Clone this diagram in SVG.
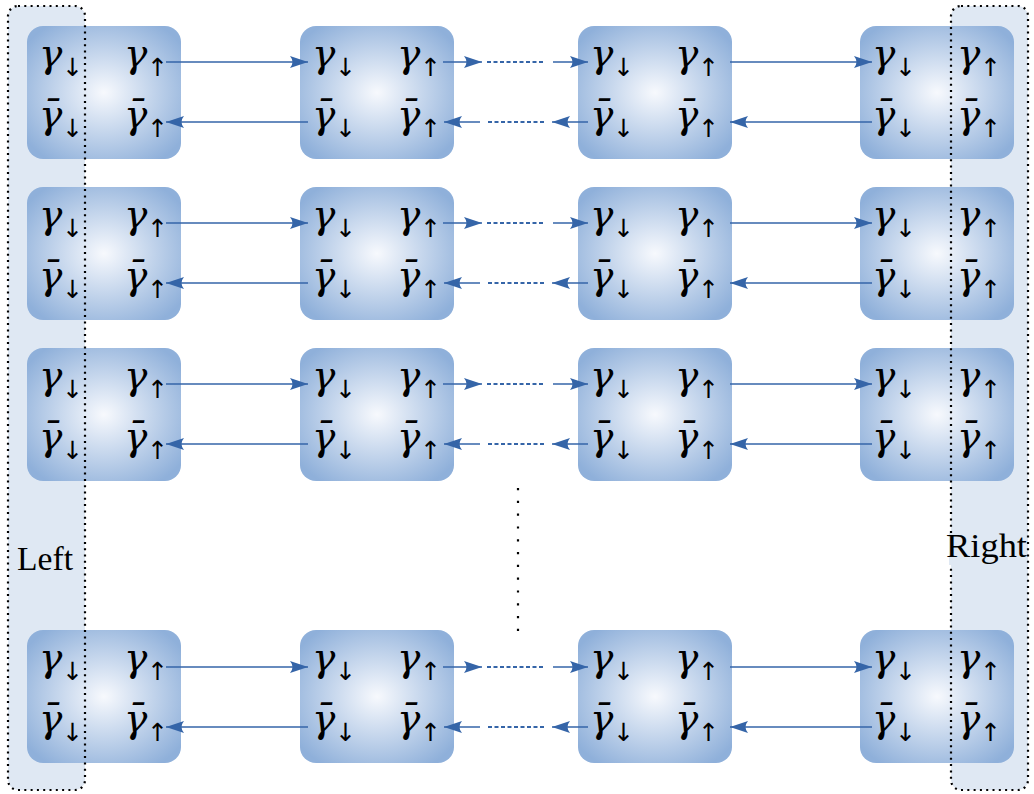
<svg xmlns="http://www.w3.org/2000/svg" width="1034" height="794" viewBox="0 0 1034 794">
<defs>
<radialGradient id="ng" cx="0.5" cy="0.5" r="0.62">
<stop offset="0" stop-color="#f7f9fd"/>
<stop offset="1" stop-color="#8fb0da"/>
</radialGradient>
<marker id="ah" viewBox="0 0 18 12" refX="18" refY="6" markerWidth="18" markerHeight="12" markerUnits="userSpaceOnUse" orient="auto">
<path d="M0,0 L18,6 L0,12 Q5,6 0,0 Z" fill="#3565a8"/>
</marker>
<g id="node">
<rect x="0" y="0" width="154" height="133" rx="16" fill="url(#ng)"/>
</g>
</defs>
<style>
.panel{fill:#dfe8f3;}
.pborder{fill:none;stroke:#000;stroke-width:2.2;stroke-dasharray:2 4.3;}
.g{font-family:"DejaVu Serif","Liberation Serif",serif;font-style:italic;font-size:39px;fill:#000;}
.s{font-style:normal;font-weight:400;font-size:25px;font-family:"DejaVu Sans",sans-serif;fill:#000;}
.lbl{font-family:"Liberation Serif","DejaVu Serif",serif;font-size:34px;fill:#000;}
.c{stroke:#3565a8;stroke-width:1.5;fill:none;}
.d{stroke:#3565a8;stroke-width:2;fill:none;stroke-dasharray:4 2.5;}
.vd{stroke:#000;stroke-width:2.2;stroke-dasharray:2.2 10.6;}
</style>
<g id="panels">
<rect class="panel" x="8" y="6" width="77" height="784" rx="10"/>
<rect class="panel" x="951" y="6" width="77" height="784" rx="10"/>
</g>
<g id="nodes">
<g id="n-r1c1" transform="translate(27,26)"><use href="#node"/><text class="g" x="12" y="41">γ<tspan class="s" dy="9">↓</tspan></text><text class="g" x="97" y="41">γ<tspan class="s" dy="9">↑</tspan></text><text class="g" x="12" y="102">γ̄<tspan class="s" dy="9">↓</tspan></text><text class="g" x="97" y="102">γ̄<tspan class="s" dy="9">↑</tspan></text></g>
<g id="n-r1c2" transform="translate(300,26)"><use href="#node"/><text class="g" x="12" y="41">γ<tspan class="s" dy="9">↓</tspan></text><text class="g" x="97" y="41">γ<tspan class="s" dy="9">↑</tspan></text><text class="g" x="12" y="102">γ̄<tspan class="s" dy="9">↓</tspan></text><text class="g" x="97" y="102">γ̄<tspan class="s" dy="9">↑</tspan></text></g>
<g id="n-r1c3" transform="translate(578,26)"><use href="#node"/><text class="g" x="12" y="41">γ<tspan class="s" dy="9">↓</tspan></text><text class="g" x="97" y="41">γ<tspan class="s" dy="9">↑</tspan></text><text class="g" x="12" y="102">γ̄<tspan class="s" dy="9">↓</tspan></text><text class="g" x="97" y="102">γ̄<tspan class="s" dy="9">↑</tspan></text></g>
<g id="n-r1c4" transform="translate(860,26)"><use href="#node"/><text class="g" x="12" y="41">γ<tspan class="s" dy="9">↓</tspan></text><text class="g" x="97" y="41">γ<tspan class="s" dy="9">↑</tspan></text><text class="g" x="12" y="102">γ̄<tspan class="s" dy="9">↓</tspan></text><text class="g" x="97" y="102">γ̄<tspan class="s" dy="9">↑</tspan></text></g>

<g id="n-r2c1" transform="translate(27,187)"><use href="#node"/><text class="g" x="12" y="41">γ<tspan class="s" dy="9">↓</tspan></text><text class="g" x="97" y="41">γ<tspan class="s" dy="9">↑</tspan></text><text class="g" x="12" y="102">γ̄<tspan class="s" dy="9">↓</tspan></text><text class="g" x="97" y="102">γ̄<tspan class="s" dy="9">↑</tspan></text></g>
<g id="n-r2c2" transform="translate(300,187)"><use href="#node"/><text class="g" x="12" y="41">γ<tspan class="s" dy="9">↓</tspan></text><text class="g" x="97" y="41">γ<tspan class="s" dy="9">↑</tspan></text><text class="g" x="12" y="102">γ̄<tspan class="s" dy="9">↓</tspan></text><text class="g" x="97" y="102">γ̄<tspan class="s" dy="9">↑</tspan></text></g>
<g id="n-r2c3" transform="translate(578,187)"><use href="#node"/><text class="g" x="12" y="41">γ<tspan class="s" dy="9">↓</tspan></text><text class="g" x="97" y="41">γ<tspan class="s" dy="9">↑</tspan></text><text class="g" x="12" y="102">γ̄<tspan class="s" dy="9">↓</tspan></text><text class="g" x="97" y="102">γ̄<tspan class="s" dy="9">↑</tspan></text></g>
<g id="n-r2c4" transform="translate(860,187)"><use href="#node"/><text class="g" x="12" y="41">γ<tspan class="s" dy="9">↓</tspan></text><text class="g" x="97" y="41">γ<tspan class="s" dy="9">↑</tspan></text><text class="g" x="12" y="102">γ̄<tspan class="s" dy="9">↓</tspan></text><text class="g" x="97" y="102">γ̄<tspan class="s" dy="9">↑</tspan></text></g>

<g id="n-r3c1" transform="translate(27,348)"><use href="#node"/><text class="g" x="12" y="41">γ<tspan class="s" dy="9">↓</tspan></text><text class="g" x="97" y="41">γ<tspan class="s" dy="9">↑</tspan></text><text class="g" x="12" y="102">γ̄<tspan class="s" dy="9">↓</tspan></text><text class="g" x="97" y="102">γ̄<tspan class="s" dy="9">↑</tspan></text></g>
<g id="n-r3c2" transform="translate(300,348)"><use href="#node"/><text class="g" x="12" y="41">γ<tspan class="s" dy="9">↓</tspan></text><text class="g" x="97" y="41">γ<tspan class="s" dy="9">↑</tspan></text><text class="g" x="12" y="102">γ̄<tspan class="s" dy="9">↓</tspan></text><text class="g" x="97" y="102">γ̄<tspan class="s" dy="9">↑</tspan></text></g>
<g id="n-r3c3" transform="translate(578,348)"><use href="#node"/><text class="g" x="12" y="41">γ<tspan class="s" dy="9">↓</tspan></text><text class="g" x="97" y="41">γ<tspan class="s" dy="9">↑</tspan></text><text class="g" x="12" y="102">γ̄<tspan class="s" dy="9">↓</tspan></text><text class="g" x="97" y="102">γ̄<tspan class="s" dy="9">↑</tspan></text></g>
<g id="n-r3c4" transform="translate(860,348)"><use href="#node"/><text class="g" x="12" y="41">γ<tspan class="s" dy="9">↓</tspan></text><text class="g" x="97" y="41">γ<tspan class="s" dy="9">↑</tspan></text><text class="g" x="12" y="102">γ̄<tspan class="s" dy="9">↓</tspan></text><text class="g" x="97" y="102">γ̄<tspan class="s" dy="9">↑</tspan></text></g>

<g id="n-r4c1" transform="translate(27,630)"><use href="#node"/><text class="g" x="12" y="41">γ<tspan class="s" dy="9">↓</tspan></text><text class="g" x="97" y="41">γ<tspan class="s" dy="9">↑</tspan></text><text class="g" x="12" y="102">γ̄<tspan class="s" dy="9">↓</tspan></text><text class="g" x="97" y="102">γ̄<tspan class="s" dy="9">↑</tspan></text></g>
<g id="n-r4c2" transform="translate(300,630)"><use href="#node"/><text class="g" x="12" y="41">γ<tspan class="s" dy="9">↓</tspan></text><text class="g" x="97" y="41">γ<tspan class="s" dy="9">↑</tspan></text><text class="g" x="12" y="102">γ̄<tspan class="s" dy="9">↓</tspan></text><text class="g" x="97" y="102">γ̄<tspan class="s" dy="9">↑</tspan></text></g>
<g id="n-r4c3" transform="translate(578,630)"><use href="#node"/><text class="g" x="12" y="41">γ<tspan class="s" dy="9">↓</tspan></text><text class="g" x="97" y="41">γ<tspan class="s" dy="9">↑</tspan></text><text class="g" x="12" y="102">γ̄<tspan class="s" dy="9">↓</tspan></text><text class="g" x="97" y="102">γ̄<tspan class="s" dy="9">↑</tspan></text></g>
<g id="n-r4c4" transform="translate(860,630)"><use href="#node"/><text class="g" x="12" y="41">γ<tspan class="s" dy="9">↓</tspan></text><text class="g" x="97" y="41">γ<tspan class="s" dy="9">↑</tspan></text><text class="g" x="12" y="102">γ̄<tspan class="s" dy="9">↓</tspan></text><text class="g" x="97" y="102">γ̄<tspan class="s" dy="9">↑</tspan></text></g>
</g>
<g id="panel-borders">
<rect class="pborder" x="8" y="6" width="77" height="784" rx="10"/>
<rect class="pborder" x="951" y="6" width="77" height="784" rx="10"/>
</g>
<g id="left-label">
<text class="lbl" x="17" y="570" textLength="56" lengthAdjust="spacingAndGlyphs">Left</text>
</g>
<g id="right-label">
<rect class="panel" x="949" y="533" width="76" height="32"/>
<text class="lbl" x="946" y="557" textLength="81" lengthAdjust="spacingAndGlyphs">Right</text>
</g>
<g id="connectors">
<g id="row1" transform="translate(0,0)">
<line class="c" x1="166" y1="62" x2="308" y2="62" marker-end="url(#ah)"/>
<line class="c" x1="308" y1="122" x2="166" y2="122" marker-end="url(#ah)"/>
<line class="c" x1="443" y1="62" x2="482" y2="62" marker-end="url(#ah)"/>
<line class="d" x1="487" y1="62" x2="545" y2="62"/>
<line class="c" x1="553" y1="62" x2="588" y2="62" marker-end="url(#ah)"/>
<line class="c" x1="480" y1="122" x2="444" y2="122" marker-end="url(#ah)"/>
<line class="d" x1="488" y1="122" x2="546" y2="122"/>
<line class="c" x1="588" y1="122" x2="552" y2="122" marker-end="url(#ah)"/>
<line class="c" x1="730" y1="62" x2="872" y2="62" marker-end="url(#ah)"/>
<line class="c" x1="872" y1="122" x2="730" y2="122" marker-end="url(#ah)"/>
</g>
<g id="row2" transform="translate(0,161)">
<line class="c" x1="166" y1="62" x2="308" y2="62" marker-end="url(#ah)"/>
<line class="c" x1="308" y1="122" x2="166" y2="122" marker-end="url(#ah)"/>
<line class="c" x1="443" y1="62" x2="482" y2="62" marker-end="url(#ah)"/>
<line class="d" x1="487" y1="62" x2="545" y2="62"/>
<line class="c" x1="553" y1="62" x2="588" y2="62" marker-end="url(#ah)"/>
<line class="c" x1="480" y1="122" x2="444" y2="122" marker-end="url(#ah)"/>
<line class="d" x1="488" y1="122" x2="546" y2="122"/>
<line class="c" x1="588" y1="122" x2="552" y2="122" marker-end="url(#ah)"/>
<line class="c" x1="730" y1="62" x2="872" y2="62" marker-end="url(#ah)"/>
<line class="c" x1="872" y1="122" x2="730" y2="122" marker-end="url(#ah)"/>
</g>
<g id="row3" transform="translate(0,322)">
<line class="c" x1="166" y1="62" x2="308" y2="62" marker-end="url(#ah)"/>
<line class="c" x1="308" y1="122" x2="166" y2="122" marker-end="url(#ah)"/>
<line class="c" x1="443" y1="62" x2="482" y2="62" marker-end="url(#ah)"/>
<line class="d" x1="487" y1="62" x2="545" y2="62"/>
<line class="c" x1="553" y1="62" x2="588" y2="62" marker-end="url(#ah)"/>
<line class="c" x1="480" y1="122" x2="444" y2="122" marker-end="url(#ah)"/>
<line class="d" x1="488" y1="122" x2="546" y2="122"/>
<line class="c" x1="588" y1="122" x2="552" y2="122" marker-end="url(#ah)"/>
<line class="c" x1="730" y1="62" x2="872" y2="62" marker-end="url(#ah)"/>
<line class="c" x1="872" y1="122" x2="730" y2="122" marker-end="url(#ah)"/>
</g>
<g id="row4" transform="translate(0,605)">
<line class="c" x1="166" y1="62" x2="308" y2="62" marker-end="url(#ah)"/>
<line class="c" x1="308" y1="122" x2="166" y2="122" marker-end="url(#ah)"/>
<line class="c" x1="443" y1="62" x2="482" y2="62" marker-end="url(#ah)"/>
<line class="d" x1="487" y1="62" x2="545" y2="62"/>
<line class="c" x1="553" y1="62" x2="588" y2="62" marker-end="url(#ah)"/>
<line class="c" x1="480" y1="122" x2="444" y2="122" marker-end="url(#ah)"/>
<line class="d" x1="488" y1="122" x2="546" y2="122"/>
<line class="c" x1="588" y1="122" x2="552" y2="122" marker-end="url(#ah)"/>
<line class="c" x1="730" y1="62" x2="872" y2="62" marker-end="url(#ah)"/>
<line class="c" x1="872" y1="122" x2="730" y2="122" marker-end="url(#ah)"/>
</g>
</g>
<g id="vdots">
<line class="vd" x1="518" y1="488" x2="518" y2="632"/>
</g>
</svg>
